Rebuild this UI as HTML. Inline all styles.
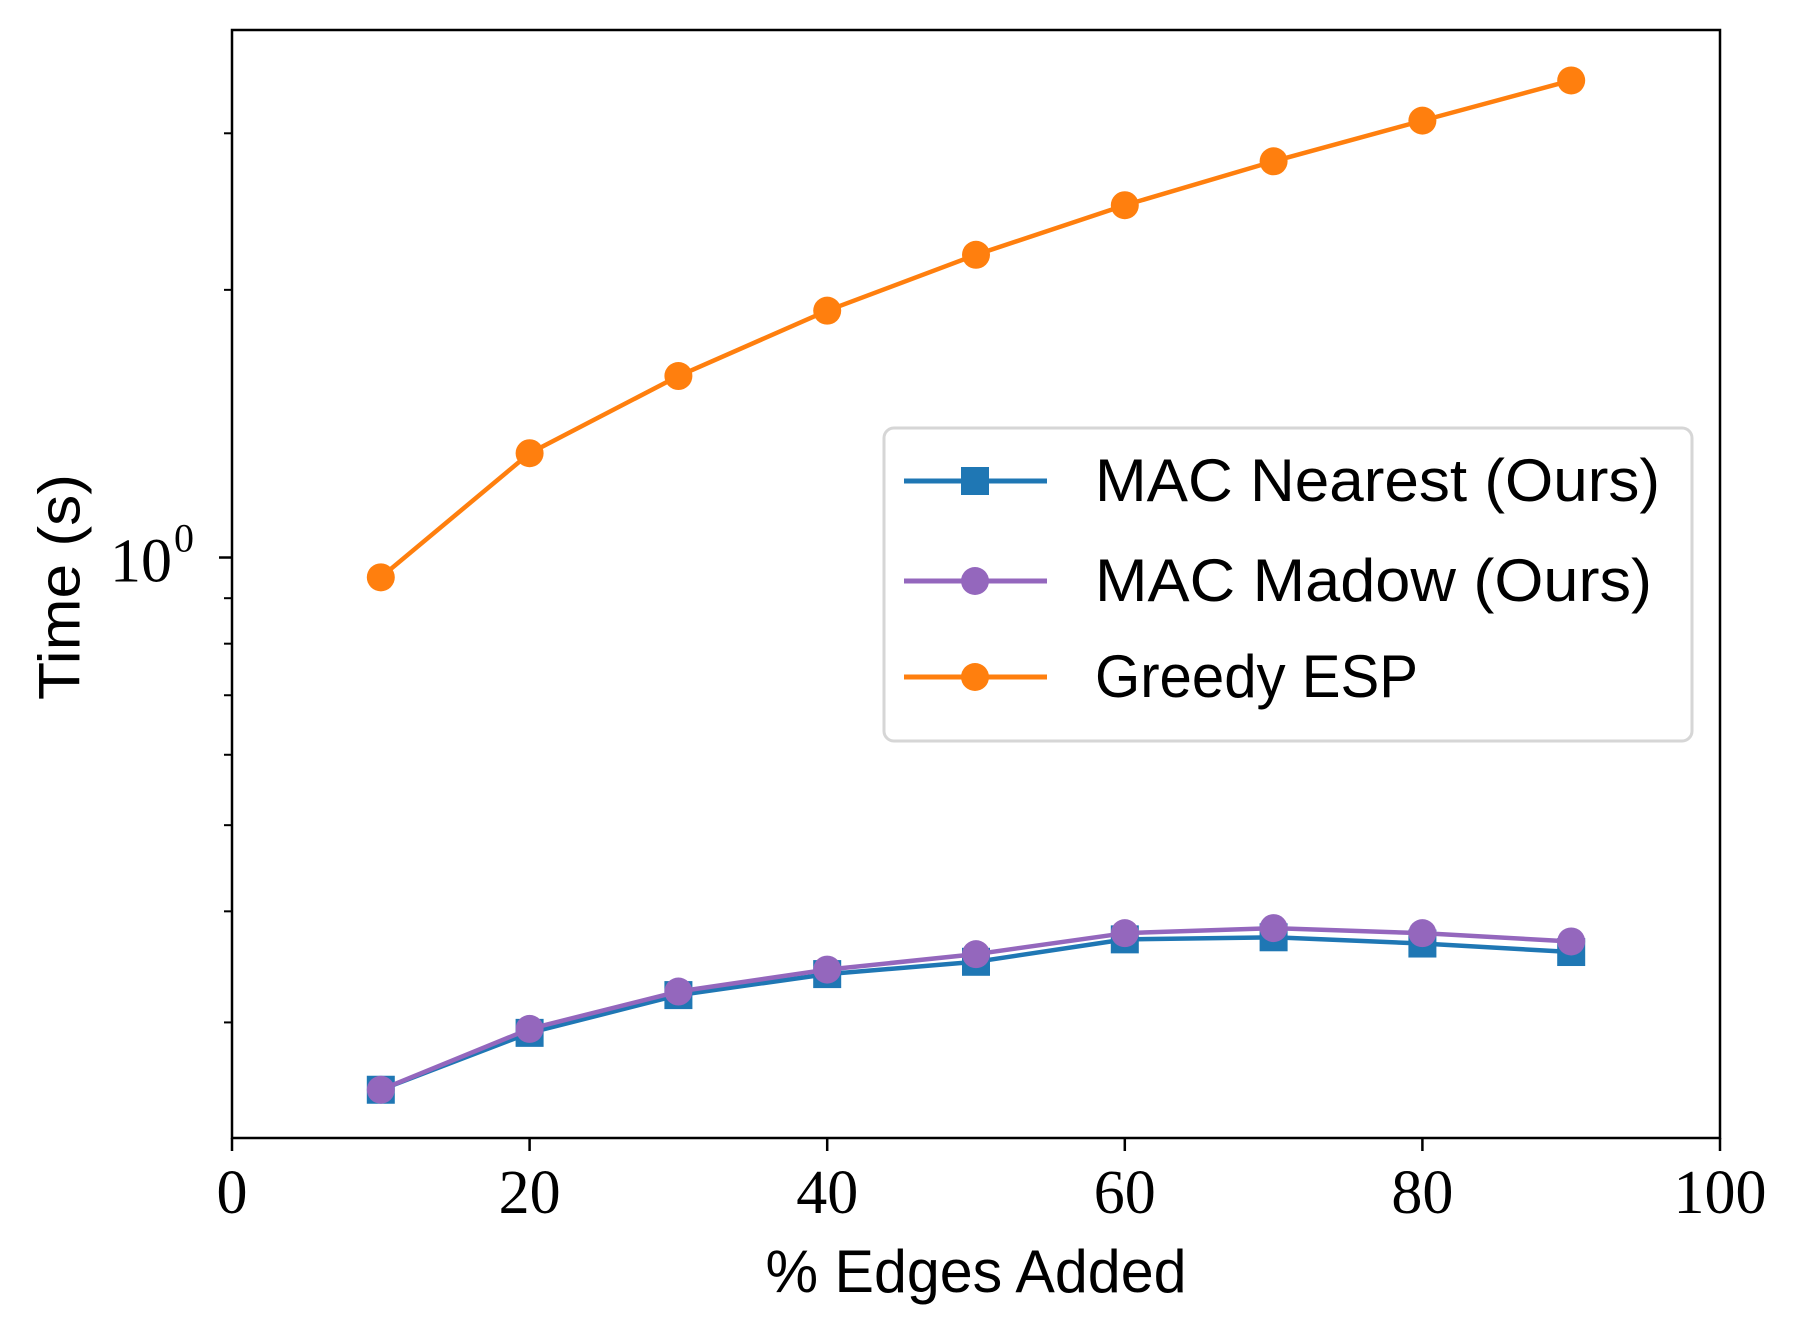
<!DOCTYPE html>
<html><head><meta charset="utf-8"><style>
html,body{margin:0;padding:0;background:#fff;}
svg{display:block;}
</style></head><body>
<svg id="chart" width="1797" height="1336" viewBox="0 0 1797 1336" xmlns="http://www.w3.org/2000/svg">
<rect width="1797" height="1336" fill="#fff"/>
<g id="plot"></g>
<g id="axes"></g>
<text x="60" y="587" transform="rotate(-90 60 587)" text-anchor="middle" dominant-baseline="central" font-family="'Liberation Sans', sans-serif" font-size="58" textLength="226" lengthAdjust="spacingAndGlyphs">Time (s)</text>
<text x="976" y="1292" text-anchor="middle" font-family="'Liberation Sans', sans-serif" font-size="60" textLength="421" lengthAdjust="spacingAndGlyphs">% Edges Added</text>
<g>
<rect x="884" y="428" width="808" height="313" rx="10" fill="#fff" stroke="#d6d6d6" stroke-width="3"/>
<g>
<line x1="904" y1="481" x2="1047" y2="481" stroke="#1f77b4" stroke-width="5"/>
<rect x="961" y="467" width="28" height="28" fill="#1f77b4"/>
<text x="1095" y="501" font-family="'Liberation Sans', sans-serif" font-size="60" textLength="565" lengthAdjust="spacingAndGlyphs">MAC Nearest (Ours)</text>
</g>
<g>
<line x1="904" y1="581" x2="1047" y2="581" stroke="#9467bd" stroke-width="5"/>
<circle cx="975" cy="581" r="14" fill="#9467bd"/>
<text x="1095" y="601" font-family="'Liberation Sans', sans-serif" font-size="60" textLength="557" lengthAdjust="spacingAndGlyphs">MAC Madow (Ours)</text>
</g>
<g>
<line x1="904" y1="677" x2="1047" y2="677" stroke="#ff7f0e" stroke-width="5"/>
<circle cx="975" cy="677" r="14" fill="#ff7f0e"/>
<text x="1095" y="697" font-family="'Liberation Sans', sans-serif" font-size="60" textLength="323" lengthAdjust="spacingAndGlyphs">Greedy ESP</text>
</g>
</g>
</svg>
<script>
const xValues = [10,20,30,40,50,60,70,80,90];
const nearestValues = [0.252,0.292,0.322,0.340,0.351,0.372,0.374,0.368,0.360];
const madowValues = [0.252,0.295,0.325,0.344,0.358,0.378,0.383,0.378,0.370];
const greedyValues = [0.95,1.31,1.60,1.895,2.19,2.49,2.79,3.10,3.44];
const xTicks = [0,20,40,60,80,100];
const yMinorTicks = [0.3,0.4,0.5,0.6,0.7,0.8,0.9,2,3];

const L=232,R=1720,T=30,B=1138;
const xMin=0,xMax=100, yMin=0.2224, yMax=3.92;
function sx(v){return L+(v-xMin)/(xMax-xMin)*(R-L);}
function sy(v){return B-(Math.log10(v)-Math.log10(yMin))/(Math.log10(yMax)-Math.log10(yMin))*(B-T);}
const NS="http://www.w3.org/2000/svg";
function mk(tag,attrs,parent){const e=document.createElementNS(NS,tag);for(const k in attrs)e.setAttribute(k,attrs[k]);parent.appendChild(e);return e;}
const plot=document.getElementById('plot');
const axes=document.getElementById('axes');

function series(vals,color,marker,name){
  const g=mk('g',{},plot);
  
  
  const pts=xValues.map((x,i)=>sx(x)+','+sy(vals[i])).join(' ');
  const pl=mk('polyline',{points:pts,fill:'none',stroke:color,'stroke-width':4.5,'stroke-linejoin':'round'},g);
  
  
  xValues.forEach((x,i)=>{
    let m;
    if(marker==='s') m=mk('rect',{x:sx(x)-14,y:sy(vals[i])-14,width:28,height:28,fill:color},g);
    else m=mk('circle',{cx:sx(x),cy:sy(vals[i]),r:14,fill:color},g);
    
    
  });
}
series(nearestValues,'#1f77b4','s','series-mac-nearest');
series(madowValues,'#9467bd','o','series-mac-madow');
series(greedyValues,'#ff7f0e','o','series-greedy-esp');

const frame=mk('rect',{x:L,y:T,width:R-L,height:B-T,fill:'none',stroke:'#000','stroke-width':2.5},axes);


xTicks.forEach(t=>{
  const x=sx(t);
  const tk=mk('line',{x1:x,y1:B,x2:x,y2:B+13,stroke:'#000','stroke-width':2.5},axes);
  
  
  const lb=mk('text',{x:x,y:1213,'text-anchor':'middle','font-family':"'Liberation Serif', serif",'font-size':62},axes);
  lb.textContent=t;
  
  
});
yMinorTicks.forEach(t=>{
  const y=sy(t);
  const tk=mk('line',{x1:L,y1:y,x2:L-8,y2:y,stroke:'#000','stroke-width':2},axes);
  
  
});
const y1=sy(1);
const mt=mk('line',{x1:L,y1:y1,x2:L-13,y2:y1,stroke:'#000','stroke-width':2.5},axes);


const yl=mk('text',{x:172,y:y1+24,'text-anchor':'end','font-family':"'Liberation Serif', serif",'font-size':62},axes);
yl.textContent='10';


const ye=mk('text',{x:174,y:y1-6,'font-family':"'Liberation Serif', serif",'font-size':40},axes);
ye.textContent='0';


</script>
</body></html>
